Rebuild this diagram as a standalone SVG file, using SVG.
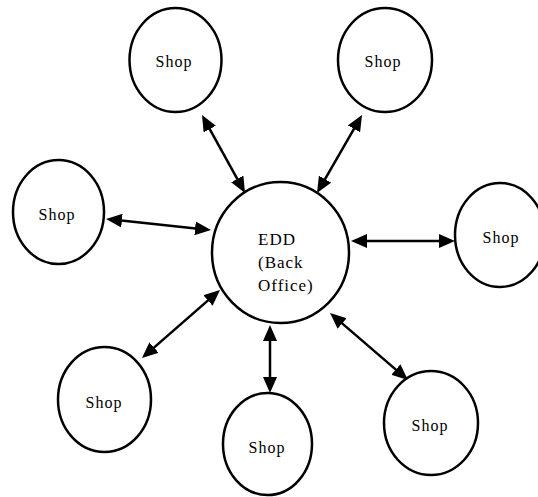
<svg xmlns="http://www.w3.org/2000/svg" width="538" height="497" viewBox="0 0 538 497">
<style>
.node{fill:#fff;stroke:#000;stroke-width:2.5}
.lbl{font-family:"Liberation Serif","Times New Roman",serif;font-size:16px;letter-spacing:1px;fill:#000;text-anchor:middle}
.edd{font-family:"Liberation Serif","Times New Roman",serif;font-size:17px;letter-spacing:1px;fill:#000}
.conn{stroke:#000;stroke-width:2.5;fill:none;marker-start:url(#ah);marker-end:url(#ah)}
</style>
<defs>
<marker id="ah" viewBox="0 0 16 14" refX="10" refY="7" markerWidth="16" markerHeight="14" markerUnits="userSpaceOnUse" orient="auto-start-reverse">
<path d="M0,0 L16,7 L0,14 z" fill="#000"/>
</marker>
</defs>
<rect width="538" height="497" fill="#fff"/>
<g id="connectors">
<line class="conn" x1="204.9" y1="120.3" x2="242.1" y2="187.7"/>
<line class="conn" x1="359" y1="120.2" x2="320" y2="187.8"/>
<line class="conn" x1="112" y1="219.6" x2="205" y2="229.4"/>
<line class="conn" x1="357" y1="241" x2="449" y2="241"/>
<line class="conn" x1="215.5" y1="293.9" x2="146.5" y2="354.1"/>
<line class="conn" x1="270" y1="331" x2="270" y2="387"/>
<line class="conn" x1="334.6" y1="316.9" x2="403.4" y2="376.1"/>
</g>
<g id="edd">
<ellipse class="node" cx="280.5" cy="252.5" rx="68.5" ry="70.5"/>
<text class="edd" x="258" y="245">EDD</text>
<text class="edd" x="258" y="268">(Back</text>
<text class="edd" x="258" y="291">Office)</text>
</g>
<g id="shop-top-left">
<ellipse class="node" cx="175.5" cy="60" rx="46" ry="52"/>
<text class="lbl" x="174" y="67">Shop</text>
</g>
<g id="shop-top-right">
<ellipse class="node" cx="385" cy="60" rx="47" ry="52"/>
<text class="lbl" x="383" y="67">Shop</text>
</g>
<g id="shop-left">
<ellipse class="node" cx="58.5" cy="212" rx="45.5" ry="52"/>
<text class="lbl" x="57" y="220">Shop</text>
</g>
<g id="shop-right">
<ellipse class="node" cx="500" cy="235" rx="45" ry="52"/>
<text class="lbl" x="501" y="243">Shop</text>
</g>
<g id="shop-bottom-left">
<ellipse class="node" cx="104.5" cy="399.5" rx="46.5" ry="52.5"/>
<text class="lbl" x="104" y="408">Shop</text>
</g>
<g id="shop-bottom-middle">
<ellipse class="node" cx="267.5" cy="444" rx="44.5" ry="51"/>
<text class="lbl" x="267" y="453">Shop</text>
</g>
<g id="shop-bottom-right">
<ellipse class="node" cx="431" cy="423" rx="47" ry="52"/>
<text class="lbl" x="430" y="431">Shop</text>
</g>
</svg>
